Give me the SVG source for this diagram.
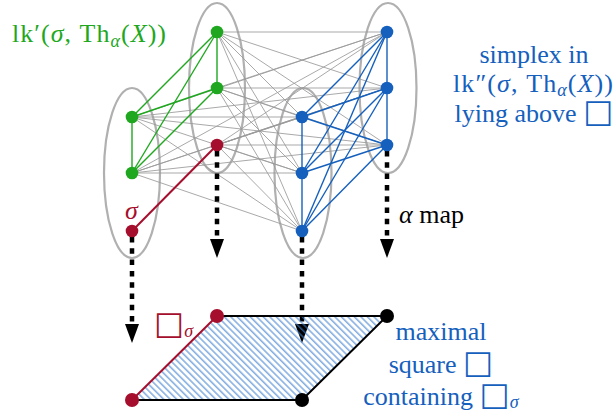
<svg xmlns="http://www.w3.org/2000/svg" width="616" height="416" viewBox="0 0 616 416">
<style>
.lbl{font-family:"Liberation Serif","Times New Roman",serif;font-size:26px}
.mid{text-anchor:middle}
.it{font-style:italic}
.sub{font-style:italic;font-size:18px}
.ell{fill:none;stroke:#b0b0b0;stroke-width:2.2}
.gray line{stroke:#999;stroke-width:0.85}
.green line{stroke:#1fa81f;stroke-width:1.4}
.blue line{stroke:#1560bd;stroke-width:1.4}
.arr{stroke:#000;stroke-width:4.5;stroke-dasharray:5.5 5.8;fill:none}
.head{fill:#000}
.gn{fill:#1fa81f}.bn{fill:#1560bd}.rn{fill:#a50f2d}.kn{fill:#000}
.sq{font-family:"DejaVu Sans",sans-serif;font-size:32px}
</style>
<defs>
<pattern id="hatch" patternUnits="userSpaceOnUse" width="4.6" height="4.6" patternTransform="rotate(45)">
<line x1="0" y1="1" x2="4.6" y2="1" stroke="#3d7fd0" stroke-width="1"/>
</pattern>
</defs>
<rect width="616" height="416" fill="#fff"/>
<g id="ellipses">
<ellipse class="ell" cx="132" cy="173" rx="28" ry="85"/>
<ellipse class="ell" cx="217" cy="88" rx="28" ry="85"/>
<ellipse class="ell" cx="303" cy="173" rx="28.5" ry="85"/>
<ellipse class="ell" cx="388" cy="88" rx="28.5" ry="85"/>
</g>
<g id="connectors">
<g class="gray">
<line x1="132" y1="117" x2="302" y2="117"/><line x1="132" y1="117" x2="302" y2="173"/><line x1="132" y1="117" x2="302" y2="231"/><line x1="132" y1="117" x2="387" y2="32"/><line x1="132" y1="117" x2="387" y2="88"/><line x1="132" y1="117" x2="387" y2="145"/>
<line x1="132" y1="173" x2="302" y2="117"/><line x1="132" y1="173" x2="302" y2="173"/><line x1="132" y1="173" x2="302" y2="231"/><line x1="132" y1="173" x2="387" y2="32"/><line x1="132" y1="173" x2="387" y2="88"/><line x1="132" y1="173" x2="387" y2="145"/>
<line x1="217" y1="32" x2="302" y2="117"/><line x1="217" y1="32" x2="302" y2="173"/><line x1="217" y1="32" x2="302" y2="231"/><line x1="217" y1="32" x2="387" y2="32"/><line x1="217" y1="32" x2="387" y2="88"/><line x1="217" y1="32" x2="387" y2="145"/>
<line x1="217" y1="88" x2="302" y2="117"/><line x1="217" y1="88" x2="302" y2="173"/><line x1="217" y1="88" x2="302" y2="231"/><line x1="217" y1="88" x2="387" y2="32"/><line x1="217" y1="88" x2="387" y2="88"/><line x1="217" y1="88" x2="387" y2="145"/>
<line x1="217" y1="145" x2="302" y2="117"/><line x1="217" y1="145" x2="302" y2="173"/><line x1="217" y1="145" x2="302" y2="231"/><line x1="217" y1="145" x2="387" y2="32"/><line x1="217" y1="145" x2="387" y2="88"/><line x1="217" y1="145" x2="387" y2="145"/>
</g>
<g class="green">
<line x1="132" y1="117" x2="132" y2="173"/><line x1="217" y1="32" x2="217" y2="88"/>
<line x1="132" y1="117" x2="217" y2="32"/><line x1="132" y1="117" x2="217" y2="88"/>
<line x1="132" y1="173" x2="217" y2="32"/><line x1="132" y1="173" x2="217" y2="88"/>
</g>
<g class="blue">
<line x1="302" y1="117" x2="302" y2="231"/><line x1="387" y1="32" x2="387" y2="145"/>
<line x1="302" y1="117" x2="387" y2="32"/><line x1="302" y1="117" x2="387" y2="88"/><line x1="302" y1="117" x2="387" y2="145"/>
<line x1="302" y1="173" x2="387" y2="32"/><line x1="302" y1="173" x2="387" y2="88"/><line x1="302" y1="173" x2="387" y2="145"/>
<line x1="302" y1="231" x2="387" y2="32"/><line x1="302" y1="231" x2="387" y2="88"/><line x1="302" y1="231" x2="387" y2="145"/>
</g>
<line x1="132" y1="231" x2="217" y2="145" stroke="#a50f2d" stroke-width="2"/>
<g id="arrows">
<line class="arr" x1="132" y1="237" x2="132" y2="325"/><path class="head" d="M125,324 L139,324 L132,343 Z"/>
<line class="arr" x1="217" y1="151" x2="217" y2="240"/><path class="head" d="M210,239 L224,239 L217,258 Z"/>
<line class="arr" x1="302" y1="237" x2="302" y2="325"/><path class="head" d="M295,324 L309,324 L302,343 Z"/>
<line class="arr" x1="387" y1="151" x2="387" y2="240"/><path class="head" d="M380,239 L394,239 L387,258 Z"/>
</g>
</g>
<g id="square">
<polygon points="217,316 387,316 302,400 132,400" fill="url(#hatch)"/>
<path d="M217,316 L387,316 L302,400 L132,400" fill="none" stroke="#000" stroke-width="2"/>
<line x1="132" y1="400" x2="217" y2="316" stroke="#a50f2d" stroke-width="2"/>
</g>
<g id="nodes">
<circle id="a1" class="gn" cx="132" cy="117" r="6.3"/>
<circle id="a2" class="gn" cx="132" cy="173" r="6.3"/>
<circle id="a3" class="rn" cx="132" cy="231" r="6.3"/>
<circle id="b1" class="gn" cx="217" cy="32" r="6.3"/>
<circle id="b2" class="gn" cx="217" cy="88" r="6.3"/>
<circle id="b3" class="rn" cx="217" cy="145" r="6.3"/>
<circle id="c1" class="bn" cx="302" cy="117" r="6.3"/>
<circle id="c2" class="bn" cx="302" cy="173" r="6.3"/>
<circle id="c3" class="bn" cx="302" cy="231" r="6.3"/>
<circle id="d1" class="bn" cx="387" cy="32" r="6.3"/>
<circle id="d2" class="bn" cx="387" cy="88" r="6.3"/>
<circle id="d3" class="bn" cx="387" cy="145" r="6.3"/>
<circle id="p1" class="rn" cx="217" cy="316" r="7"/>
<circle id="p2" class="kn" cx="387" cy="316" r="7"/>
<circle id="p3" class="kn" cx="302" cy="400" r="7"/>
<circle id="p4" class="rn" cx="132" cy="400" r="7"/>
</g>
<g id="labels">
<text class="lbl" x="12" y="42" fill="#1fa81f" textLength="154" lengthAdjust="spacing">lk′(<tspan class="it">σ</tspan>, Th<tspan class="sub" dy="5">α</tspan><tspan dy="-5">(</tspan><tspan class="it">X</tspan>))</text>
<text class="lbl mid" x="534" y="63" fill="#1560bd">simplex in</text>
<text class="lbl" x="453" y="92" fill="#1560bd" textLength="160" lengthAdjust="spacing">lk″(<tspan class="it">σ</tspan>, Th<tspan class="sub" dy="4">α</tspan><tspan dy="-4">(</tspan><tspan class="it">X</tspan>))</text>
<text class="lbl mid" x="534" y="122" fill="#1560bd">lying above <tspan class="sq">□</tspan></text>
<text class="lbl" x="399" y="223" fill="#000"><tspan class="it">α</tspan> map</text>
<text class="lbl it" x="125" y="219" fill="#a50f2d">σ</text>
<text class="lbl" x="154" y="334" fill="#a50f2d"><tspan class="sq">□</tspan><tspan class="sub" dy="3">σ</tspan></text>
<text class="lbl mid" x="441" y="340" fill="#1560bd">maximal</text>
<text class="lbl mid" x="441" y="373" fill="#1560bd">square <tspan class="sq">□</tspan></text>
<text class="lbl mid" x="441" y="405" fill="#1560bd">containing <tspan class="sq">□</tspan><tspan class="sub" dy="3">σ</tspan></text>
</g>
</svg>
